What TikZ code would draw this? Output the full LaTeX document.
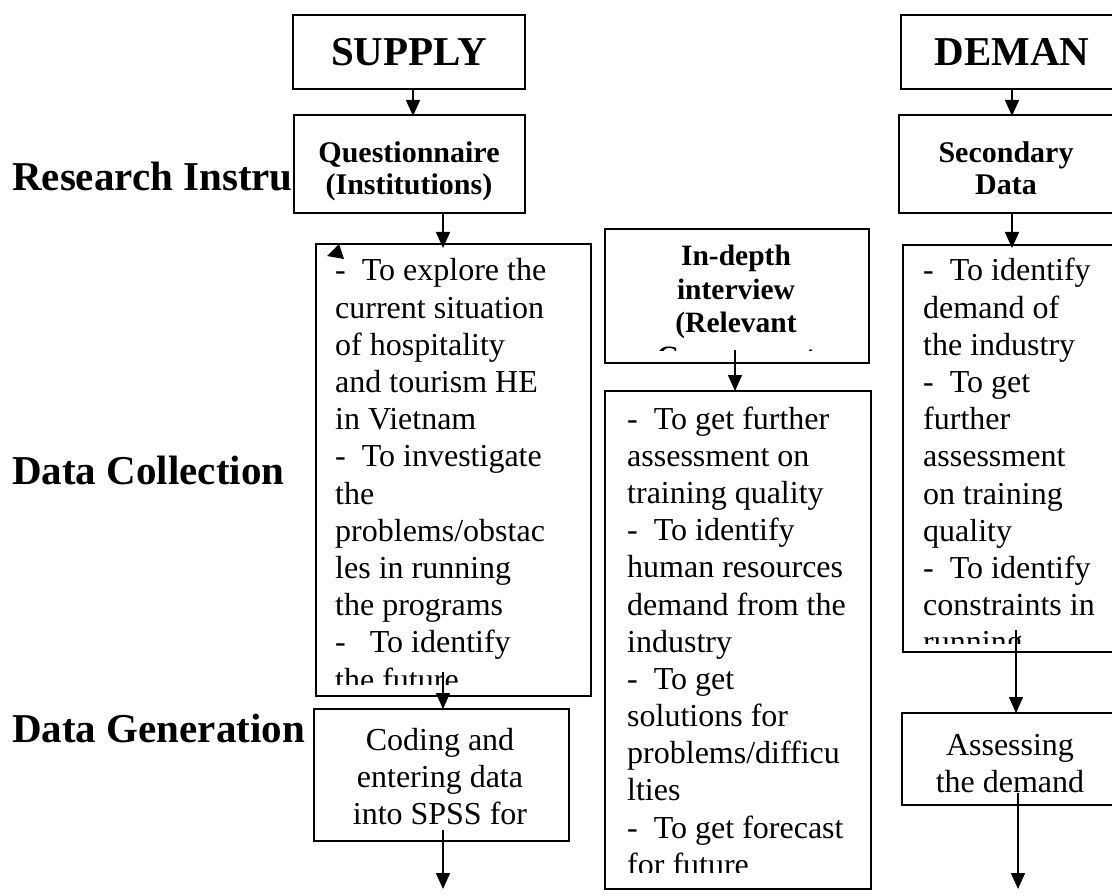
\documentclass[tikz,border=0pt]{standalone}
\usepackage{fontspec}
\setmainfont{Liberation Serif}
\usetikzlibrary{arrows.meta,calc}
\begin{document}
\begin{tikzpicture}[x=1pt,y=-1pt]
\tikzset{
  frame/.style={draw, line width=1.9pt, fill=white, rectangle, inner sep=0pt, anchor=north west},
  flow/.style={line width=1.5pt, -{Triangle[length=16pt,width=14pt]}},
  rowlabel/.style={anchor=base west, inner sep=0pt, font=\fontsize{41}{47}\selectfont\bfseries},
  headbig/.style={anchor=base, inner sep=0pt, font=\fontsize{41}{47}\selectfont\bfseries},
  headsmall/.style={anchor=base, inner sep=0pt, font=\fontsize{30}{31.5}\selectfont\bfseries},
  bodyleft/.style={anchor=base west, inner sep=0pt, font=\fontsize{32}{37.2}\selectfont},
  bodymid/.style={anchor=base, inner sep=0pt, font=\fontsize{32}{37.2}\selectfont},
}
\clip (0,0) rectangle (1112,896);
\fill[white] (0,0) rectangle (1112,896);

% row labels on the left (partly covered by the boxes)
\begin{scope}
\clip (0,0) rectangle (293,896);
\node[rowlabel] (lri) at (12,191) {Research Instrum};
\end{scope}
\node[rowlabel] (ldc) at (12,484) {Data Collection};
\node[rowlabel] (ldg) at (12,742) {Data Generation};

% boxes
\node[frame, minimum width=232pt, minimum height=74pt] (sup) at (292,14) {};
\node[frame, minimum width=225pt, minimum height=74pt] (dem) at (900,14) {};
\node[frame, minimum width=231pt, minimum height=98pt] (qst) at (293,114) {};
\node[frame, minimum width=227pt, minimum height=98pt] (sec) at (898,114) {};
\node[frame, minimum width=275pt, minimum height=452pt] (sdc) at (315,243) {};
\node[frame, minimum width=264pt, minimum height=134pt] (idi) at (604,228) {};
\node[frame, minimum width=266pt, minimum height=498pt] (mdc) at (604,390) {};
\node[frame, minimum width=223pt, minimum height=407pt] (ddc) at (902,244) {};
\node[frame, minimum width=255pt, minimum height=132pt] (cod) at (313,708) {};
\node[frame, minimum width=224pt, minimum height=92pt] (asd) at (901,712) {};

% box texts
\node[headbig] (tsup) at (409,66) {SUPPLY};
\node[headbig] (tdem) at (1012,66) {DEMAN};
\node[headsmall] (tqst) at (409,163) {\parbox[t]{226pt}{\centering Questionnaire\\(Institutions)}};
\node[headsmall] (tsec) at (1006,163) {\parbox[t]{210pt}{\centering Secondary\\Data}};

\begin{scope}
\clip (606,230) rectangle (866,350);
\node[headsmall, font=\fontsize{29.5}{33.5}\selectfont\bfseries] (tidi) at (736,266)
  {\parbox[t]{256pt}{\centering In-depth\\interview\\(Relevant\\Government}};
\end{scope}

\begin{scope}
\clip (317,245) rectangle (588,684);
\node[bodyleft] (tsdc) at (335,281) {\parbox[t]{260pt}{\raggedright
-\ \ To explore the\\
current situation\\
of hospitality\\
and tourism HE\\
in Vietnam\\
-\ \ To investigate\\
the\\
problems/obstac\\
les in running\\
the programs\\
-\ \ \ To identify\\
the future}};
\end{scope}

\begin{scope}
\clip (606,392) rectangle (868,872);
\node[bodyleft] (tmdc) at (627,429) {\parbox[t]{240pt}{\raggedright
-\ \ To get further\\
assessment on\\
training quality\\
-\ \ To identify\\
human resources\\
demand from the\\
industry\\
-\ \ To get\\
solutions for\\
problems/difficu\\
lties\\
-\ \ To get forecast\\
for future}};
\end{scope}

\begin{scope}
\clip (904,246) rectangle (1112,643);
\node[bodyleft] (tddc) at (923,281) {\parbox[t]{200pt}{\raggedright
-\ \ To identify\\
demand of\\
the industry\\
-\ \ To get\\
further\\
assessment\\
on training\\
quality\\
-\ \ To identify\\
constraints in\\
running}};
\end{scope}

\node[bodymid] (tcod) at (440,750) {\parbox[t]{240pt}{\centering Coding and\\entering data\\into SPSS for}};
\node[bodymid] (tasd) at (1010,755) {\parbox[t]{210pt}{\centering Assessing\\the demand}};

% connectors
\draw[flow] (sup.south -| 413,0) -- ($(qst.north -| 413,0)+(0,2)$);
\draw[flow] (qst.south -| 443,0) -- ($(sdc.north -| 443,0)+(0,5)$);
\coordinate (s3) at (443,672);
\draw[flow] (s3) -- ($(cod.north -| 443,0)+(0,1)$);
\coordinate (s4) at (443,830);
\coordinate (e4) at (443,889);
\draw[flow] (s4) -- (e4);
\coordinate (s5) at (735,350);
\draw[flow] (s5) -- ($(mdc.north -| 735,0)+(0,1)$);
\draw[flow] (dem.south -| 1012,0) -- ($(sec.north -| 1012,0)+(0,2)$);
\draw[flow] (sec.south -| 1012,0) -- ($(ddc.north -| 1012,0)+(0,4)$);
\coordinate (s8) at (1016,630);
\draw[flow] (s8) -- ($(asd.north -| 1016,0)+(0,1)$);
\coordinate (s9) at (1018,793);
\coordinate (e9) at (1018,889);
\draw[flow] (s9) -- (e9);

% loose arrow tip at the upper left corner of the supply text box
\fill (339,244) -- (327,256) -- (344,259) -- cycle;
\end{tikzpicture}
\end{document}
